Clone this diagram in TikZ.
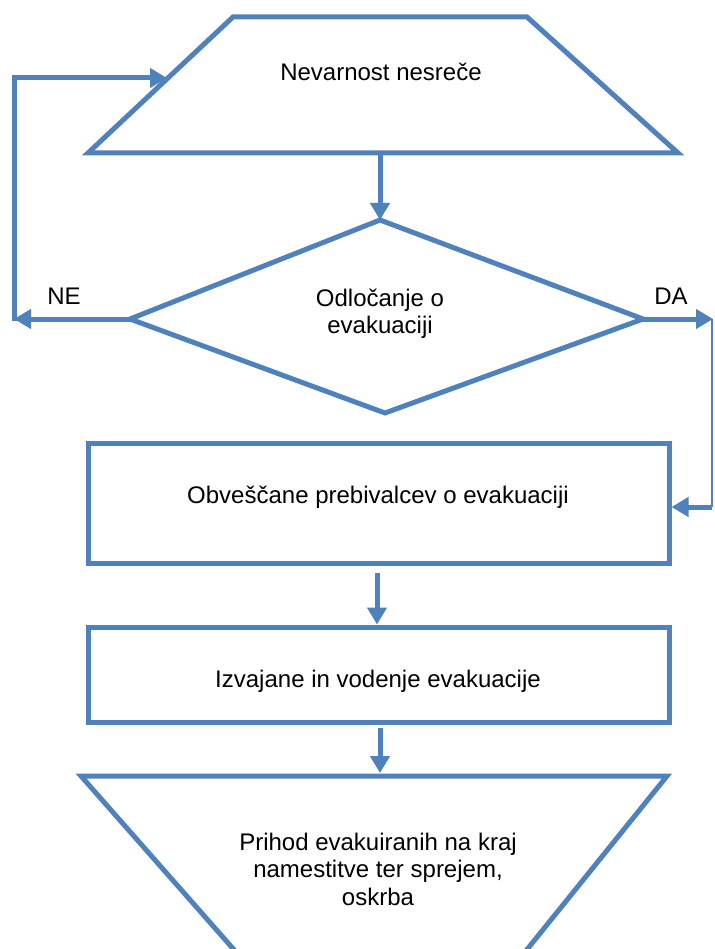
\documentclass[tikz,border=0pt]{standalone}
\usepackage{fontspec}
\setmainfont{Liberation Sans}
\usetikzlibrary{arrows.meta}
\definecolor{flowblue}{HTML}{4F81BD}
\tikzset{
  outline/.style={draw=flowblue,line width=5pt,line join=miter},
  flow/.style={draw=flowblue,line width=5pt,-{Triangle[length=17pt,width=19pt]}},
  thinline/.style={draw=flowblue,line width=1.3pt},
  txt/.style={font=\fontsize{24}{27.5}\selectfont,align=center,inner sep=0pt},
  box/.style={outline,minimum width=581pt,inner sep=0pt}
}

\begin{document}
\begin{tikzpicture}[x=1pt,y=-1pt]
\useasboundingbox (0,0) rectangle (714,949);

\coordinate (nev-tl) at (233,17);
\coordinate (nev-tr) at (527,17);
\coordinate (nev-br) at (678,153);
\coordinate (nev-bl) at (88,153);
\coordinate (nev-out) at (380,153);
\coordinate (nev-in) at (167,78);
\draw[outline] (nev-tl) -- (nev-tr) -- (nev-br) -- (nev-bl) -- cycle;
\node[txt] (nev) at (381,72) {Nevarnost nesreče};

\coordinate (odl-t) at (380,220);
\coordinate (odl-r) at (643,319);
\coordinate (odl-b) at (385,413);
\coordinate (odl-l) at (130,319);
\draw[outline] (odl-t) -- (odl-r) -- (odl-b) -- (odl-l) -- cycle;
\node[txt] (odl) at (380,314) {Odločanje o\\evakuaciji};

\node[box,minimum height=120pt] (obv) at (378.5,503) {};
\node[txt] (obvtxt) at (378,497) {Obveščane prebivalcev o evakuaciji};

\node[box,minimum height=95pt] (izv) at (378.5,674.5) {};
\node[txt] (izvtxt) at (378,681) {Izvajane in vodenje evakuacije};

\coordinate (pri-tl) at (81,776);
\coordinate (pri-tr) at (667,776);
\draw[outline] (236,952) -- (pri-tl) -- (pri-tr) -- (525,952);
\node[txt] (pri) at (378,869) {Prihod evakuiranih na kraj\\namestitve ter sprejem,\\oskrba};

\draw[flow] (nev-out) -- (odl-t);
\draw[flow] (377,573) -- (izv.north -| 377,0);
\draw[flow] (izv.south -| 380,0) ++(0,3) -- (380,773);

\coordinate (ne) at (14,319);
\draw[flow] (odl-l) -- (ne);
\draw[flow] (14,321) |- (nev-in);
\node[txt] (nelbl) at (64,296) {NE};

\coordinate (da) at (713,319);
\coordinate (da-c) at (712,507);
\draw[flow] (odl-r) -- (da);
\draw[thinline] (712,319) -- (da-c);
\draw[flow] (da-c) -- (obv.east |- da-c);
\node[txt] (dalbl) at (671,296) {DA};
\end{tikzpicture}
\end{document}
